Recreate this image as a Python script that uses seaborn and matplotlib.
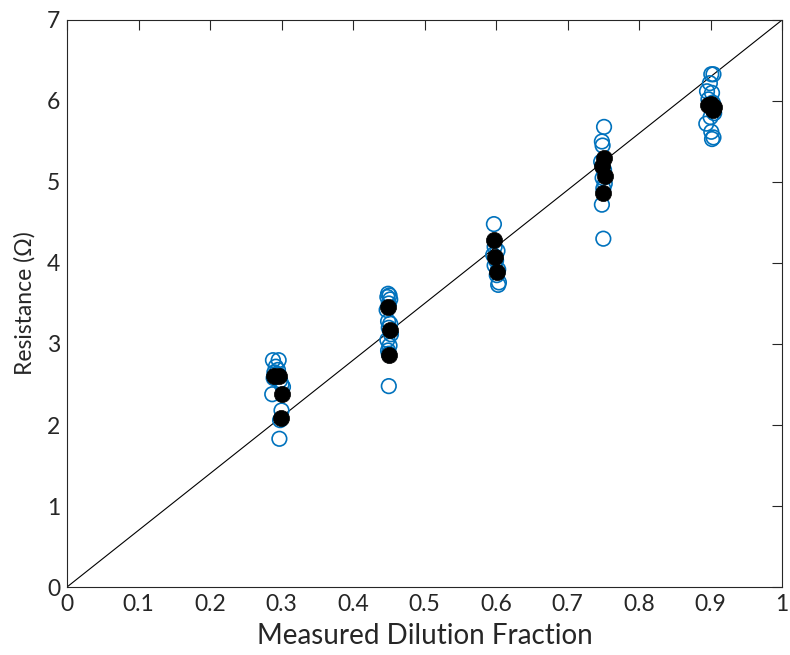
import matplotlib
matplotlib.use("Agg")
import matplotlib.pyplot as plt
import seaborn as sns
import pandas as pd

# Open (individual) measurements
open_x = [0.288, 0.296, 0.292, 0.290, 0.295, 0.289, 0.298, 0.300, 0.302, 0.287, 0.300, 0.298, 0.297, 0.295,
          0.449, 0.451, 0.448, 0.452, 0.450, 0.447, 0.449, 0.452, 0.450, 0.453, 0.448, 0.451, 0.449, 0.450, 0.450,
          0.597, 0.598, 0.602, 0.596, 0.600, 0.598, 0.603, 0.601, 0.604, 0.603,
          0.751, 0.748, 0.749, 0.747, 0.751, 0.749, 0.752, 0.750, 0.748, 0.750,
          0.901, 0.904, 0.899, 0.895, 0.902, 0.897, 0.903, 0.905, 0.900, 0.894, 0.901, 0.904, 0.902]
open_y = [2.80, 2.80, 2.72, 2.65, 2.68, 2.58, 2.55, 2.50, 2.47, 2.38, 2.18, 2.06, 1.83, 2.62,
          3.62, 3.60, 3.58, 3.55, 3.50, 3.42, 3.28, 3.25, 3.20, 3.12, 3.05, 2.98, 2.92, 2.88, 2.48,
          4.48, 4.20, 4.15, 4.10, 4.03, 3.97, 3.92, 3.85, 3.76, 3.73,
          5.68, 5.50, 5.45, 5.25, 5.15, 5.05, 4.98, 4.92, 4.72, 4.30,
          6.33, 6.33, 6.22, 6.12, 6.10, 6.02, 5.98, 5.85, 5.80, 5.72, 5.62, 5.55, 5.53]

# Filled (mean) points
mean_x = [0.290, 0.297, 0.300, 0.299,
          0.449, 0.451, 0.450,
          0.597, 0.598, 0.602,
          0.751, 0.748, 0.752, 0.750,
          0.896, 0.900, 0.905, 0.903]
mean_y = [2.61, 2.61, 2.38, 2.09,
          3.46, 3.17, 2.86,
          4.28, 4.08, 3.89,
          5.30, 5.20, 5.08, 4.87,
          5.95, 5.96, 5.92, 5.89]

line_x = [0, 1]
line_y = [0, 7]

xticks = [0, 0.1, 0.2, 0.3, 0.4, 0.5, 0.6, 0.7, 0.8, 0.9, 1]
xtick_labels = ["0", "0.1", "0.2", "0.3", "0.4", "0.5", "0.6", "0.7", "0.8", "0.9", "1"]
yticks = [0, 1, 2, 3, 4, 5, 6, 7]

sns.set_theme(style="white")
plt.rcParams['font.family'] = ['Lato', 'DejaVu Sans']

fig = plt.figure(figsize=(7.9, 6.55), dpi=100)
ax = fig.add_axes([0.0848, 0.1038, 0.9052, 0.8657])

df_open = pd.DataFrame({"x": open_x, "y": open_y})
df_mean = pd.DataFrame({"x": mean_x, "y": mean_y})

ax.plot(line_x, line_y, color="black", lw=0.8, zorder=1)
sns.scatterplot(data=df_open, x="x", y="y", ax=ax, marker="o", s=110,
                facecolors="none", edgecolor="#0072BD", linewidth=1.2, zorder=2)
sns.scatterplot(data=df_mean, x="x", y="y", ax=ax, marker="o", s=135,
                color="black", edgecolor="black", linewidth=0.5, zorder=3)

ax.set_xlim(0, 1)
ax.set_ylim(0, 7)
ax.set_xticks(xticks)
ax.set_xticklabels(xtick_labels)
ax.set_yticks(yticks)
ax.tick_params(direction="in", length=7, width=0.8, top=True, right=True,
               labelsize=16.5, colors="#262626", pad=5)
for sp in ax.spines.values():
    sp.set_color("#262626")
    sp.set_linewidth(0.8)
ax.set_xlabel("Measured Dilution Fraction", fontsize=20, color="#262626", labelpad=6)
ax.set_ylabel("Resistance (\u03a9)", fontsize=16.5, color="#262626", labelpad=8)

fig.savefig("out.png", dpi=100)
